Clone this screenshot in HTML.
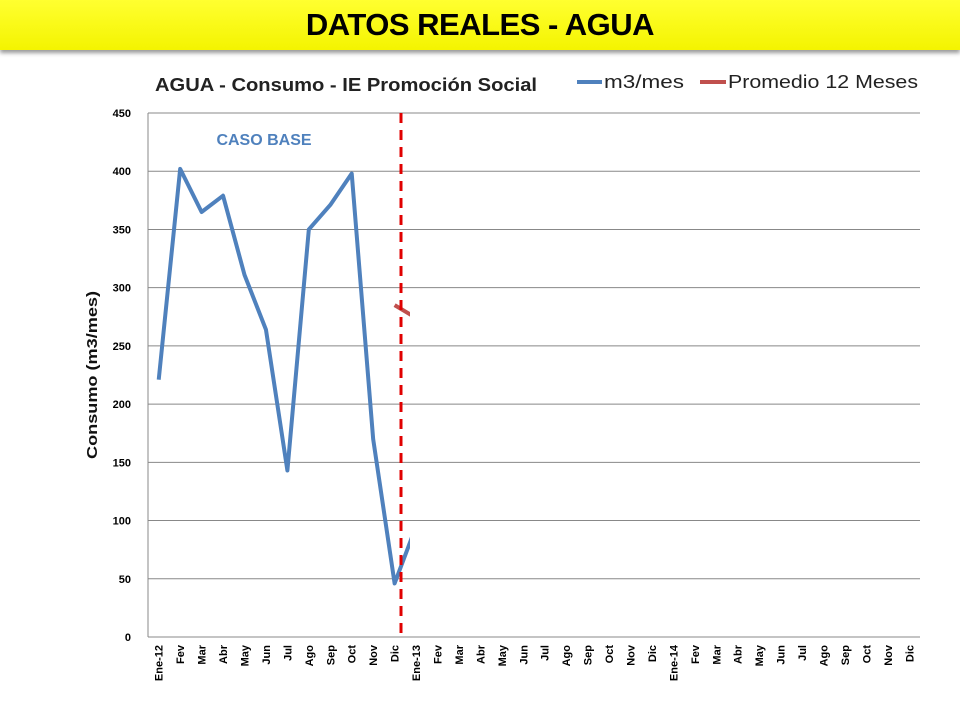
<!DOCTYPE html>
<html><head><meta charset="utf-8"><style>
body{margin:0;width:960px;height:720px;background:#fff;font-family:"Liberation Sans",sans-serif;overflow:hidden;position:relative}
.banner{position:absolute;left:0;top:0;width:960px;height:50px;background:linear-gradient(#ffff30,#f4f400);box-shadow:0 3px 4px #999;text-align:center;font-weight:bold;font-size:31px;line-height:50px;letter-spacing:-0.5px}
</style></head><body>
<div class="banner">DATOS REALES - AGUA</div>
<svg width="960" height="720" style="position:absolute;left:0;top:0">
<defs><clipPath id="cp"><rect x="140" y="100" width="270" height="560"/></clipPath></defs>
<g id="grid"></g><g id="xlabels"></g><g id="ylabels"></g>
<text x="155" y="91" font-size="18" font-weight="bold" fill="#222" textLength="382" lengthAdjust="spacingAndGlyphs">AGUA - Consumo - IE Promoción Social</text>
<g>
<line x1="577" y1="82" x2="602" y2="82" stroke="#4f81bd" stroke-width="4"/>
<text x="604" y="88" font-size="18" fill="#222" textLength="80" lengthAdjust="spacingAndGlyphs">m3/mes</text>
<line x1="700" y1="82" x2="726" y2="82" stroke="#c0504d" stroke-width="4"/>
<text x="728" y="88" font-size="18" fill="#222" textLength="190" lengthAdjust="spacingAndGlyphs">Promedio 12 Meses</text></g>
<text x="264" y="145" font-size="16" font-weight="bold" fill="#4f81bd" text-anchor="middle">CASO BASE</text>
<text transform="translate(97,375) rotate(-90)" font-size="15" font-weight="bold" text-anchor="middle" fill="#111" textLength="168" lengthAdjust="spacingAndGlyphs">Consumo (m3/mes)</text>
<g clip-path="url(#cp)"><path id="s1" fill="none" stroke="#4f81bd" stroke-width="4" stroke-linejoin="round"/><path id="s2" fill="none" stroke="#c0504d" stroke-width="4"/></g>
<line x1="401" y1="113" x2="401" y2="637" stroke="#e00000" stroke-width="3" stroke-dasharray="10,7"/>
</svg>
<script>
const categories=["Ene-12","Fev","Mar","Abr","May","Jun","Jul","Ago","Sep","Oct","Nov","Dic","Ene-13","Fev","Mar","Abr","May","Jun","Jul","Ago","Sep","Oct","Nov","Dic","Ene-14","Fev","Mar","Abr","May","Jun","Jul","Ago","Sep","Oct","Nov","Dic"];
const consumo=[221,402,365,379,311,264,143,350,371,398,170,46,95];
const promedio=[null,null,null,null,null,null,null,null,null,null,null,285,274];
const yTicks=[0,50,100,150,200,250,300,350,400,450];
const X0=148,X1=920,Y0=637,Y1=113,YMAX=450;
const bw=(X1-X0)/categories.length;
const xs=i=>X0+bw*(i+0.5), ys=v=>Y0-(v/YMAX)*(Y0-Y1);
const NS="http://www.w3.org/2000/svg";
const g=document.getElementById('grid'),xl=document.getElementById('xlabels'),yl=document.getElementById('ylabels');
yTicks.forEach(t=>{const l=document.createElementNS(NS,'line');


l.setAttribute('x1',X0);l.setAttribute('x2',X1);l.setAttribute('y1',ys(t));l.setAttribute('y2',ys(t));l.setAttribute('stroke','#888');l.setAttribute('stroke-width','1');g.appendChild(l);
const tx=document.createElementNS(NS,'text');


tx.setAttribute('x',X0-17);tx.setAttribute('y',ys(t)+4);tx.setAttribute('text-anchor','end');tx.setAttribute('font-size','11');tx.setAttribute('font-weight','bold');tx.textContent=t;yl.appendChild(tx);});
const ax=document.createElementNS(NS,'line');


ax.setAttribute('x1',X0);ax.setAttribute('x2',X0);ax.setAttribute('y1',Y1);ax.setAttribute('y2',Y0);ax.setAttribute('stroke','#888');g.appendChild(ax);
categories.forEach((c,i)=>{const tx=document.createElementNS(NS,'text');


tx.setAttribute('transform',`translate(${xs(i)+4},645) rotate(-90)`);tx.setAttribute('text-anchor','end');tx.setAttribute('font-size','11');tx.setAttribute('font-weight','bold');tx.textContent=c;xl.appendChild(tx);});
function path(arr){let d='';arr.forEach((v,i)=>{if(v==null)return;d+=(d?'L':'M')+xs(i)+','+ys(v);});return d;}
const s1=document.getElementById('s1');s1.setAttribute('d',path(consumo));


const s2=document.getElementById('s2');s2.setAttribute('d',path(promedio));


</script>
</body></html>
